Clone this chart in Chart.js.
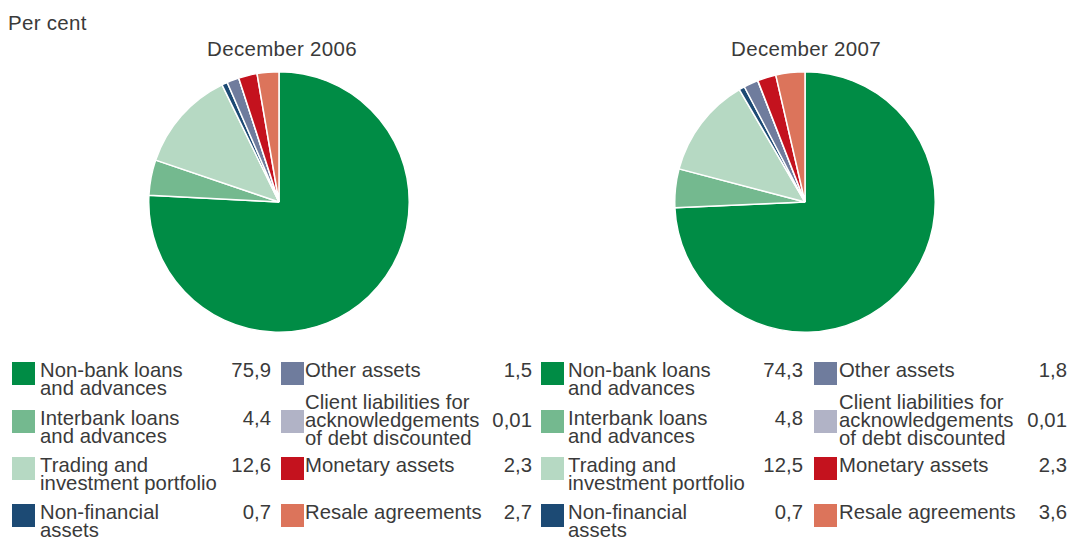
<!DOCTYPE html>
<html>
<head>
<meta charset="utf-8">
<script src="https://cdn.jsdelivr.net/npm/chart.js@4/dist/chart.umd.min.js"></script>
<style>
  body { margin: 0; background: #fff; }
  #wrap { position: relative; width: 1070px; height: 538px; font-family: "Liberation Sans", Arial, sans-serif; color: #3a3a3a; overflow: hidden; }
  .txt { position: absolute; font-size: 20.3px; letter-spacing: 0.05px; line-height: 18px; white-space: nowrap; }
  .box { position: absolute; width: 23px; height: 23px; }
  .title { position: absolute; font-size: 20.5px; letter-spacing: 0.3px; line-height: 20px; white-space: nowrap; transform: translateX(-50%); }
  canvas { position: absolute; }
</style>
</head>
<body>
<div id="wrap">
  <div class="title" style="left:8px; top:13px; transform:none;">Per cent</div>
  <div class="title" id="t1" style="left:282px; top:39px;"></div>
  <div class="title" id="t2" style="left:806px; top:39px;"></div>
  <canvas id="pie1" width="262" height="262" style="left:148px; top:71px;"></canvas>
  <canvas id="pie2" width="262" height="262" style="left:674px; top:71px;"></canvas>
</div>
<script>
// data
const titles = ['December 2006', 'December 2007'];
const labels = [
  ['Non-bank loans', 'and advances'],
  ['Interbank loans', 'and advances'],
  ['Trading and', 'investment portfolio'],
  ['Non-financial', 'assets'],
  ['Other assets'],
  ['Client liabilities for', 'acknowledgements', 'of debt discounted'],
  ['Monetary assets'],
  ['Resale agreements']
];
const values2006 = [75.9, 4.4, 12.6, 0.7, 1.5, 0.01, 2.3, 2.7];
const values2007 = [74.3, 4.8, 12.5, 0.7, 1.8, 0.01, 2.3, 3.6];
const colors = ['#008c45', '#74b98f', '#b6d9c3', '#1c4a74', '#6f7c9d', '#b1b3c6', '#c4121e', '#dc745b'];

function fmt(v) { return String(v).replace('.', ','); }

function makePie(id, vals) {
  new Chart(document.getElementById(id).getContext('2d'), {
    type: 'pie',
    data: {
      labels: labels.map(l => l.join(' ')),
      datasets: [{ data: vals, backgroundColor: colors, borderColor: '#ffffff', borderWidth: 1.5 }]
    },
    options: {
      responsive: false,
      animation: false,
      layout: { padding: 0 },
      plugins: { legend: { display: false }, tooltip: { enabled: false } }
    }
  });
}

// legend drawn as html from the same arrays
function makeLegend(vals, cols) {
  const wrap = document.getElementById('wrap');
  const rowTops = [361, 409, 456, 503];
  vals.forEach((v, i) => {
    const c = cols[Math.floor(i / 4)];
    const top = rowTops[i % 4];
    const lines = labels[i];
    const box = document.createElement('div');
    box.className = 'box';
    box.style.left = c.box + 'px';
    box.style.top = (top + 1) + 'px';
    box.style.background = colors[i];
    wrap.appendChild(box);

    const t = document.createElement('div');
    t.className = 'txt';
    t.style.left = c.text + 'px';
    t.style.top = (lines.length === 3 ? top - 16 : top) + 'px';
    t.innerHTML = lines.join('<br>');
    wrap.appendChild(t);

    const n = document.createElement('div');
    n.className = 'txt';
    n.style.left = (c.val - 80) + 'px';
    n.style.width = '80px';
    n.style.textAlign = 'right';
    n.style.top = (lines.length === 3 ? top + 2 : top) + 'px';
    n.textContent = fmt(v);
    wrap.appendChild(n);
  });
}

document.getElementById('t1').textContent = titles[0];
document.getElementById('t2').textContent = titles[1];
makePie('pie1', values2006);
makePie('pie2', values2007);
makeLegend(values2006, [{ box: 12, text: 40, val: 271 }, { box: 281, text: 305, val: 532 }]);
makeLegend(values2007, [{ box: 541, text: 568, val: 803 }, { box: 814, text: 839, val: 1067 }]);
</script>
</body>
</html>
